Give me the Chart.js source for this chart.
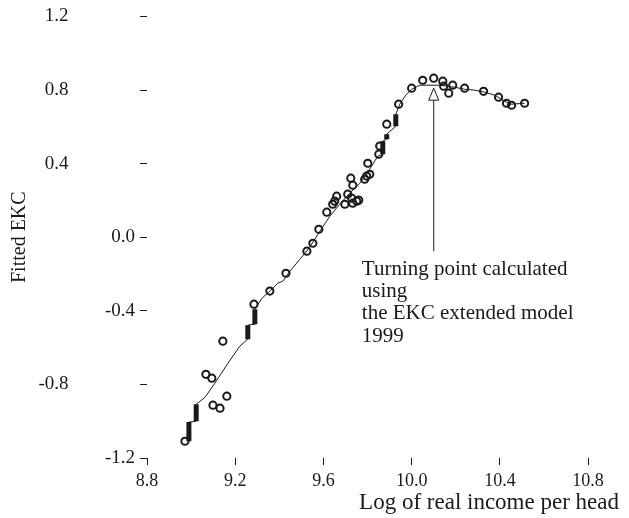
<!DOCTYPE html>
<html>
<head>
<meta charset="utf-8">
<script src="https://cdn.jsdelivr.net/npm/chart.js@4.4.1/dist/chart.umd.min.js"></script>
<style>
  html, body { margin: 0; padding: 0; background: #fff; }
  #wrap { width: 629px; height: 518px; }
</style>
</head>
<body>
<div id="wrap"><canvas id="ekc" width="629" height="518"></canvas></div>
<script>
// tick values
const xTicks = [8.8, 9.2, 9.6, 10.0, 10.4, 10.8];
const yTicks = [-1.2, -0.8, -0.4, 0.0, 0.4, 0.8, 1.2];

// observed points (circles)
const obsX = [8.972, 9.067, 9.094, 9.099, 9.131, 9.144, 9.162, 9.285, 9.357, 9.430,
              9.525, 9.552, 9.579, 9.615, 9.642, 9.651, 9.660, 9.697, 9.710, 9.724,
              9.733, 9.728, 9.733, 9.751, 9.760, 9.787, 9.796, 9.810, 9.801, 9.851,
              9.855, 9.887, 9.941, 10.000, 10.050, 10.100, 10.141, 10.145, 10.186, 10.168,
              10.240, 10.326, 10.394, 10.430, 10.453, 10.512];
const obsY = [-1.109, -0.745, -0.766, -0.913, -0.929, -0.565, -0.864, -0.364, -0.293, -0.196,
              -0.076, -0.033, 0.043, 0.136, 0.179, 0.196, 0.223, 0.179, 0.234, 0.321,
              0.283, 0.212, 0.185, 0.196, 0.201, 0.315, 0.332, 0.342, 0.402, 0.451,
              0.495, 0.614, 0.723, 0.810, 0.853, 0.864, 0.848, 0.821, 0.826, 0.783,
              0.810, 0.793, 0.761, 0.728, 0.717, 0.728];

// fitted curve
const fitX = [8.990, 8.990, 9.023, 9.023, 9.063, 9.108, 9.167, 9.221, 9.257, 9.257,
              9.289, 9.289, 9.321, 9.357, 9.393, 9.416, 9.448, 9.493, 9.538, 9.584,
              9.629, 9.674, 9.719, 9.765, 9.810, 9.846, 9.869, 9.869, 9.887, 9.887,
              9.928, 9.928, 9.946, 9.973, 10.000, 10.036, 10.127, 10.159, 10.195, 10.240,
              10.286, 10.331, 10.376, 10.421, 10.453, 10.512];
const fitY = [-1.109, -1.005, -1.000, -0.908, -0.870, -0.793, -0.685, -0.592, -0.554, -0.478,
              -0.473, -0.391, -0.332, -0.293, -0.250, -0.239, -0.185, -0.120, -0.054, 0.033,
              0.114, 0.179, 0.239, 0.293, 0.370, 0.440, 0.451, 0.522, 0.533, 0.560,
              0.603, 0.668, 0.723, 0.772, 0.804, 0.826, 0.826, 0.821, 0.815, 0.804,
              0.799, 0.788, 0.772, 0.739, 0.723, 0.728];

// jumps in the fitted curve (thick bars)
const jumpX  = [8.990, 9.023, 9.257, 9.289, 9.869, 9.887, 9.928];
const jumpLo = [-1.109, -1.000, -0.554, -0.473, 0.451, 0.533, 0.603];
const jumpHi = [-1.005, -0.908, -0.478, -0.391, 0.522, 0.560, 0.668];

// annotation
const noteLines = ['Turning point calculated', 'using', 'the EKC extended model', '1999'];
const arrowX = 10.1, arrowFrom = -0.076, arrowTip = 0.81;
const noteX = 9.774, noteY = -0.174;

const fitData = fitX.map((x, i) => ({ x: x, y: fitY[i] }));
const obsData = obsX.map((x, i) => ({ x: x, y: obsY[i] }));
const jumpData = [];
jumpX.forEach((x, i) => {
    jumpData.push({ x: x, y: jumpLo[i] }, { x: x, y: jumpHi[i] }, { x: x, y: null });
});

const ink = '#1a1a1a';
Chart.defaults.font.family = '"Liberation Serif", "Times New Roman", serif';
Chart.defaults.color = ink;

const notePlugin = {
    id: 'note',
    afterDatasetsDraw(chart) {
        const ctx = chart.ctx;
        const xs = chart.scales.x, ys = chart.scales.y;
        const ax = xs.getPixelForValue(arrowX);
        const yBottom = ys.getPixelForValue(arrowFrom);
        const yTip = ys.getPixelForValue(arrowTip);
        ctx.save();
        ctx.strokeStyle = ink;
        ctx.lineWidth = 1;
        ctx.beginPath();
        ctx.moveTo(ax, yBottom);
        ctx.lineTo(ax, yTip + 11);
        ctx.stroke();
        // open arrow head
        ctx.fillStyle = '#fff';
        ctx.beginPath();
        ctx.moveTo(ax, yTip);
        ctx.lineTo(ax - 5, yTip + 12);
        ctx.lineTo(ax + 5, yTip + 12);
        ctx.closePath();
        ctx.fill();
        ctx.stroke();
        // text
        ctx.fillStyle = ink;
        ctx.font = '21px "Liberation Serif", serif';
        ctx.textAlign = 'left';
        ctx.textBaseline = 'middle';
        const tx = xs.getPixelForValue(noteX);
        const ty = ys.getPixelForValue(noteY);
        noteLines.forEach((t, i) => ctx.fillText(t, tx, ty + i * 22.3));
        ctx.restore();
    }
};

// labels that sit far from their tick in the original
const farLabels = [1.2, 0.8, 0.4, -0.8];

new Chart(document.getElementById('ekc'), {
    type: 'scatter',
    data: {
        datasets: [
            {
                label: 'fitted',
                data: fitData,
                showLine: true,
                borderColor: ink,
                borderWidth: 1,
                pointRadius: 0,
                tension: 0
            },
            {
                label: 'jumps',
                data: jumpData,
                showLine: true,
                spanGaps: false,
                borderColor: ink,
                borderWidth: 5,
                borderCapStyle: 'butt',
                pointRadius: 0
            },
            {
                label: 'observed',
                data: obsData,
                pointStyle: 'circle',
                pointRadius: 3.6,
                pointBorderWidth: 2,
                borderColor: ink,
                backgroundColor: 'rgba(0,0,0,0)'
            }
        ]
    },
    options: {
        responsive: false,
        animation: false,
        layout: { padding: { left: 0, top: 16, right: 10, bottom: 0 } },
        plugins: {
            legend: { display: false },
            tooltip: { enabled: false }
        },
        scales: {
            x: {
                type: 'linear',
                min: 8.8,
                max: 10.94,
                afterBuildTicks: s => { s.ticks = xTicks.map(v => ({ value: v })); },
                afterFit: s => { s.height = 60; },
                border: { display: false },
                grid: { drawOnChartArea: false, drawTicks: true, tickLength: 7, color: ink, lineWidth: 1 },
                ticks: {
                    font: { size: 18 },
                    padding: 5,
                    maxRotation: 0,
                    callback: v => v.toFixed(1)
                },
                title: {
                    display: true,
                    text: 'Log of real income per head',
                    align: 'end',
                    font: { size: 23 },
                    padding: { top: 0, bottom: 1 }
                }
            },
            y: {
                min: -1.2,
                max: 1.2,
                afterBuildTicks: s => { s.ticks = yTicks.map(v => ({ value: v })); },
                afterFit: s => { s.width = 147; },
                border: { display: false },
                grid: { drawOnChartArea: false, drawTicks: true, tickLength: 7, color: ink, lineWidth: 1 },
                ticks: {
                    font: { size: 19 },
                    padding: 5,
                    callback: v => {
                        const t = v.toFixed(1);
                        return farLabels.some(f => Math.abs(f - v) < 1e-6) ? t + ' '.repeat(14) : t;
                    }
                },
                title: {
                    display: true,
                    text: 'Fitted EKC',
                    font: { size: 20 },
                    padding: { top: 8, bottom: 0 }
                }
            }
        }
    },
    plugins: [notePlugin]
});
</script>
</body>
</html>
